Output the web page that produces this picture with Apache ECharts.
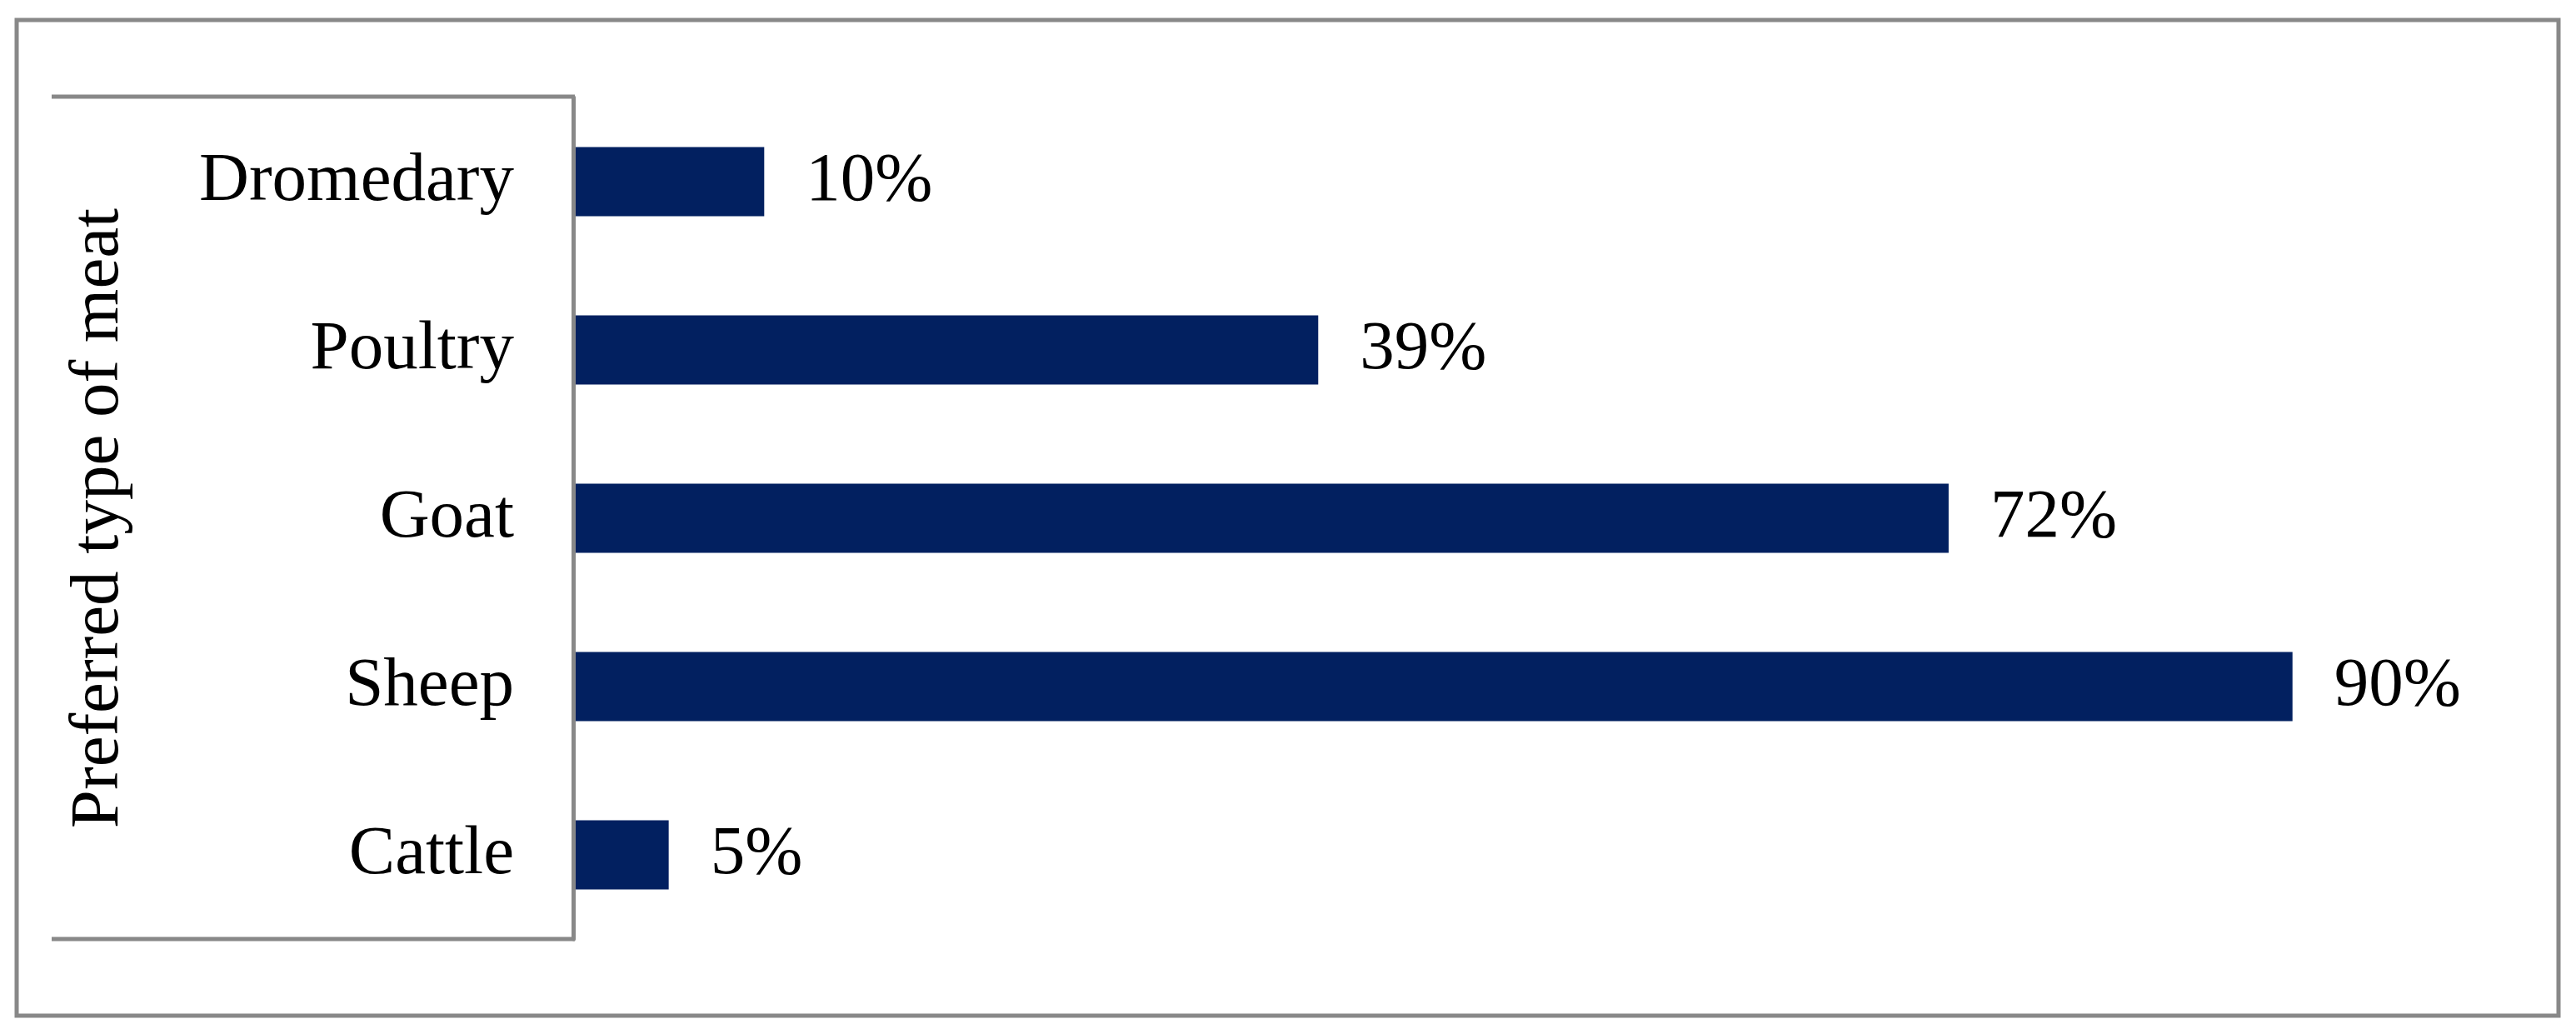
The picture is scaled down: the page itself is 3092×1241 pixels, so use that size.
<!DOCTYPE html>
<html>
<head>
<meta charset="utf-8">
<script src="https://cdn.jsdelivr.net/npm/echarts@6/dist/echarts.min.js"></script>
<style>
html,body{margin:0;padding:0;background:#fff;}
#chart{width:3092px;height:1241px;}
</style>
</head>
<body>
<div id="chart"></div>
<script>
// Data (bottom to top on the category axis)
const categories = ['Cattle', 'Sheep', 'Goat', 'Poultry', 'Dromedary'];
const values = [5, 90, 72, 39, 10];
const axisName = 'Preferred type of meat';

const FONT = '"Liberation Serif", "Times New Roman", serif';
const GRID_LEFT = 688, GRID_TOP = 117, GRID_W = 2293, GRID_H = 1010;
const LINE = '#888888';

const chart = echarts.init(document.getElementById('chart'), null, {renderer: 'canvas'});
chart.setOption({
  backgroundColor: '#ffffff',
  animation: false,
  grid: {left: GRID_LEFT, top: GRID_TOP, width: GRID_W, height: GRID_H, containLabel: false},
  xAxis: {
    type: 'value', min: 0, max: 100,
    axisLine: {show: false}, axisTick: {show: false},
    axisLabel: {show: false}, splitLine: {show: false}
  },
  yAxis: {
    type: 'category', data: categories,
    z: 10,
    axisLine: {show: true, lineStyle: {color: LINE, width: 5}},
    axisTick: {show: false},
    axisLabel: {margin: 71, color: '#000', fontFamily: FONT, fontSize: 83},
    name: axisName,
    nameLocation: 'middle',
    nameRotate: 90,
    nameGap: 527,
    nameTextStyle: {color: '#000', fontFamily: FONT, fontSize: 83}
  },
  series: [{
    type: 'bar',
    data: values,
    barCategoryGap: '59%',
    itemStyle: {color: '#022060'},
    label: {
      show: true, position: 'right', distance: 50,
      formatter: p => p.value + '%',
      color: '#000', fontFamily: FONT, fontSize: 83
    }
  }],
  graphic: [
    {type: 'rect', z: 0, shape: {x: 20, y: 24, width: 3051, height: 1195},
     style: {fill: null, stroke: LINE, lineWidth: 5}},
    {type: 'line', z: 5, shape: {x1: 62, y1: GRID_TOP - 1, x2: GRID_LEFT + 2, y2: GRID_TOP - 1},
     style: {stroke: LINE, lineWidth: 5}},
    {type: 'line', z: 5, shape: {x1: 62, y1: GRID_TOP + GRID_H, x2: GRID_LEFT + 2, y2: GRID_TOP + GRID_H},
     style: {stroke: LINE, lineWidth: 5}}
  ]
});
</script>
</body>
</html>
